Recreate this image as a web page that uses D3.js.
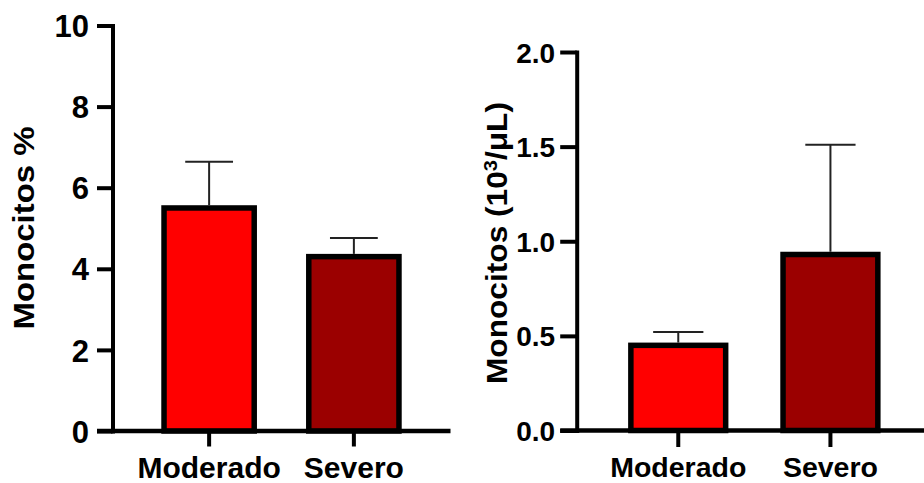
<!DOCTYPE html>
<html lang="es">
<head>
<meta charset="UTF-8">
<title>Monocitos</title>
<script src="https://cdn.jsdelivr.net/npm/d3@7"></script>
<style>
  html, body { margin: 0; padding: 0; background: #fff; }
  svg { display: block; }
  text { font-family: "Liberation Sans", Arial, sans-serif; font-weight: bold; fill: #000; }
</style>
</head>
<body>
<svg id="chart" width="924" height="483"></svg>
<script>
// datos
const grupos = ["Moderado", "Severo"];
const colores = ["#ff0000", "#9b0000"];

const pctMedia = [5.5, 4.3];
const pctDE = [1.14, 0.46];
const pctTicks = [0, 2, 4, 6, 8, 10];

const absMedia = [0.45, 0.93];
const absDE = [0.07, 0.58];
const absTicks = [0, 0.5, 1.0, 1.5, 2.0];

const svg = d3.select("#chart");

function panel(opt) {
  const g = svg.append("g");

  const x = d3.scaleBand()
    .domain(grupos)
    .range([opt.x0, opt.x1])
    .paddingInner(0.377)
    .paddingOuter(0.356);

  const y = d3.scaleLinear()
    .domain([0, opt.max])
    .range([opt.yBase, opt.yTop]);

  // barras
  g.selectAll("rect.bar")
    .data(opt.media)
    .join("rect")
    .attr("class", "bar")
    .attr("x", (d, i) => x(grupos[i]))
    .attr("y", d => y(d))
    .attr("width", x.bandwidth())
    .attr("height", d => y(0) - y(d))
    .attr("fill", (d, i) => colores[i])
    .attr("stroke", "#000")
    .attr("stroke-width", 5.5);

  // barras de error (solo hacia arriba)
  const cap = x.bandwidth() * 0.265;
  opt.media.forEach((m, i) => {
    const cx = x(grupos[i]) + x.bandwidth() / 2;
    const top = y(m + opt.de[i]);
    g.append("line")
      .attr("x1", cx).attr("x2", cx)
      .attr("y1", y(m) - 2.75).attr("y2", top)
      .attr("stroke", "#222").attr("stroke-width", 2);
    g.append("line")
      .attr("x1", cx - cap).attr("x2", cx + cap)
      .attr("y1", top).attr("y2", top)
      .attr("stroke", "#222").attr("stroke-width", 2);
  });

  // eje y
  const ay = g.append("g")
    .attr("transform", `translate(${opt.x0},0)`)
    .call(d3.axisLeft(y)
      .tickValues(opt.ticks)
      .tickFormat(opt.fmt)
      .tickSize(opt.tick)
      .tickSizeOuter(0)
      .tickPadding(opt.pad));
  ay.select(".domain").attr("stroke-width", 4).attr("stroke-linecap", "square");
  ay.selectAll(".tick line").attr("stroke-width", 4);
  ay.selectAll(".tick text")
    .style("font-size", opt.tickFont + "px")
    .attr("dy", "0.36em")
    .attr("fill", "#000");

  // eje x
  const ax = g.append("g")
    .attr("transform", `translate(0,${opt.yBase})`)
    .call(d3.axisBottom(x).tickSize(opt.tick).tickSizeOuter(0).tickPadding(0));
  ax.select(".domain").remove();
  ax.append("line")
    .attr("x1", opt.x0 - opt.tick).attr("x2", opt.x1)
    .attr("y1", 0).attr("y2", 0)
    .attr("stroke", "#000").attr("stroke-width", 4.3);
  ax.selectAll(".tick line").attr("stroke-width", 4);
  ax.selectAll(".tick text")
    .attr("y", opt.labelY)
    .attr("dy", 0)
    .style("font-size", opt.catFont + "px")
    .attr("fill", "#000");

  // titulo del eje y
  const t = g.append("text")
    .attr("transform", `translate(${opt.titleX},${opt.titleY}) rotate(-90)`)
    .attr("text-anchor", "middle")
    .style("font-size", opt.titleFont + "px")
    .attr("textLength", opt.titleLen)
    .attr("lengthAdjust", "spacingAndGlyphs");
  opt.title(t);
}

panel({
  x0: 112.5, x1: 450.5, yBase: 431, yTop: 25.5, max: 10,
  media: pctMedia, de: pctDE, ticks: pctTicks, fmt: d3.format("d"),
  tick: 15.5, pad: 8, tickFont: 31, catFont: 30, labelY: 47,
  titleX: 33.5, titleY: 228, titleFont: 29, titleLen: 203,
  title: t => t.text("Monocitos %")
});

panel({
  x0: 576.7, x1: 932, yBase: 430.5, yTop: 52, max: 2,
  media: absMedia, de: absDE, ticks: absTicks, fmt: d3.format(".1f"),
  tick: 16.5, pad: 5, tickFont: 28, catFont: 28.5, labelY: 46,
  titleX: 507, titleY: 243, titleFont: 30, titleLen: 282,
  title: t => {
    t.append("tspan").text("Monocitos (10");
    t.append("tspan").attr("baseline-shift", "super").style("font-size", "19px").text("3");
    t.append("tspan").text("/\u03bcL)");
  }
});
</script>
</body>
</html>
